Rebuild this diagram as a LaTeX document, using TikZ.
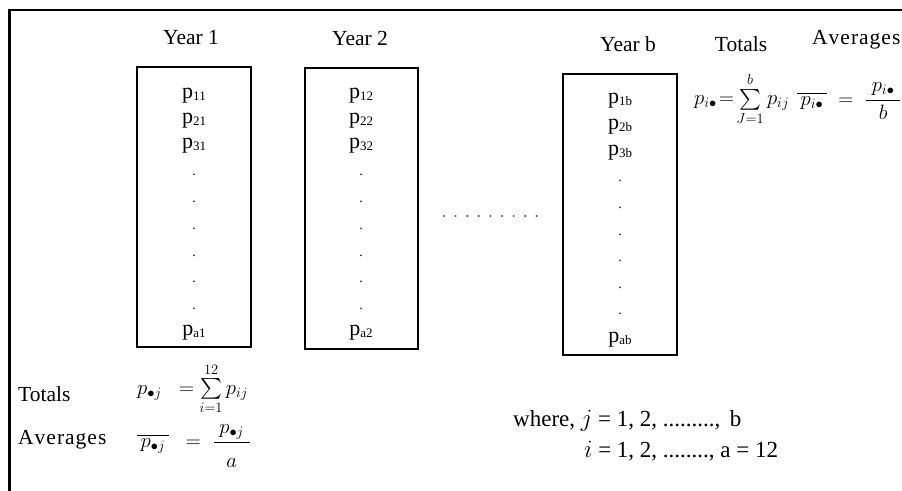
\documentclass[tikz,border=0pt]{standalone}
\usepackage{amsmath}
\usepackage{fontspec}
\setmainfont{Liberation Serif}
\begin{document}
\begin{tikzpicture}[x=1pt,y=-1pt,
  txt/.style={inner sep=0pt,font=\fontsize{21.5}{24}\selectfont},
  wtxt/.style={inner sep=0pt,font=\fontsize{23}{26}\selectfont},
  mth/.style={inner sep=0pt,font=\fontsize{20}{24}\selectfont},
  colbox/.style={draw,line width=1.3pt,minimum width=114pt,inner sep=0pt},
  cell/.style={inner sep=0pt,font=\fontsize{22}{24}\selectfont},
  dotc/.style={inner sep=0pt,font=\fontsize{14}{16}\selectfont}]
\useasboundingbox (0,0) rectangle (902,490);
\fill[white] (0,0) rectangle (902,490);
\draw[line width=2.4pt] (9.5,492) -- (9.5,10) -- (904,10);
\newcommand{\pc}[1]{p\raisebox{-1.5pt}{\fontsize{13}{14}\selectfont #1}}
% headers
\node[txt] (h1) at (191,38) {Year 1};
\node[txt] (h2) at (360,38) {Year 2};
\node[txt] (hb) at (628,44) {Year b};
\node[txt] (ht) at (741,44) {Totals};
\node[txt,anchor=west] (ha) at (812,40) {A\kern1pt v\kern1pt e\kern1pt r\kern1pt a\kern1pt g\kern1pt e\kern1pt s};
% boxes
\node[colbox,minimum height=280pt] (b1) at (194,207) {};
\node[colbox,minimum height=281pt,minimum width=113pt] (b2) at (361.5,208.5) {};
\node[colbox,minimum height=281pt] (bb) at (620,214.5) {};
% column 1
\node[cell] (c11) at (194,96) {\pc{11}};
\node[cell] (c21) at (194,121) {\pc{21}};
\node[cell] (c31) at (194,146) {\pc{31}};
\foreach \y/\n in {175/1,202/2,229/3,256/4,282/5,309/6}{\node[dotc] (d1\n) at (194,\y) {.};}
\node[cell] (ca1) at (194,333) {\pc{a1}};
% column 2
\node[cell] (c12) at (361,96) {\pc{12}};
\node[cell] (c22) at (361,121) {\pc{22}};
\node[cell] (c32) at (361,146) {\pc{32}};
\foreach \y/\n in {175/1,202/2,229/3,256/4,282/5,309/6}{\node[dotc] (d2\n) at (361,\y) {.};}
\node[cell] (ca2) at (361,333) {\pc{a2}};
% column b
\node[cell] (c1b) at (620,101) {\pc{1b}};
\node[cell] (c2b) at (620,127) {\pc{2b}};
\node[cell] (c3b) at (620,153) {\pc{3b}};
\foreach \y/\n in {181/1,208/2,235/3,261/4,288/5,314/6}{\node[dotc] (db\n) at (620,\y) {.};}
\node[cell] (cab) at (620,340) {\pc{ab}};
% ellipsis between columns
\foreach \i in {0,...,8}{\fill[black!70] (444+11.6*\i,216) circle (1.1pt);}
% right formulas
\node[mth,anchor=west] (ft) at (694,99) {$p_{i\bullet}\!=\!\sum\limits_{J=1}^{b}p_{ij}$};
\node[mth,anchor=west] (fa) at (797,101) {$\overline{\,p_{i\bullet}\,}\;=\;\dfrac{\;p_{i\bullet}\;}{b}$};
% bottom
\node[txt,anchor=west] (lt) at (18,394) {Totals};
\node[txt,anchor=west] (la) at (18,440) {A\kern1pt v\kern1pt e\kern1pt r\kern1pt a\kern1pt g\kern1pt e\kern1pt s};
\node[mth,anchor=west] (fbt) at (137,389) {$p_{\bullet j}\;\;=\sum\limits_{i=1}^{12}p_{ij}$};
\node[mth,anchor=west] (fba) at (137,446) {$\overline{\,p_{\bullet j}\,}\;\;=\;\dfrac{\;p_{\bullet j}\;}{\rule{0pt}{22pt}a}$};
\node[wtxt,anchor=west] (w1) at (513,421) {where, $j$ = 1, 2, .........,\, b};
\node[wtxt,anchor=west] (w2) at (584,451) {$i$ = 1, 2, ........, a = 12};
\end{tikzpicture}
\end{document}
